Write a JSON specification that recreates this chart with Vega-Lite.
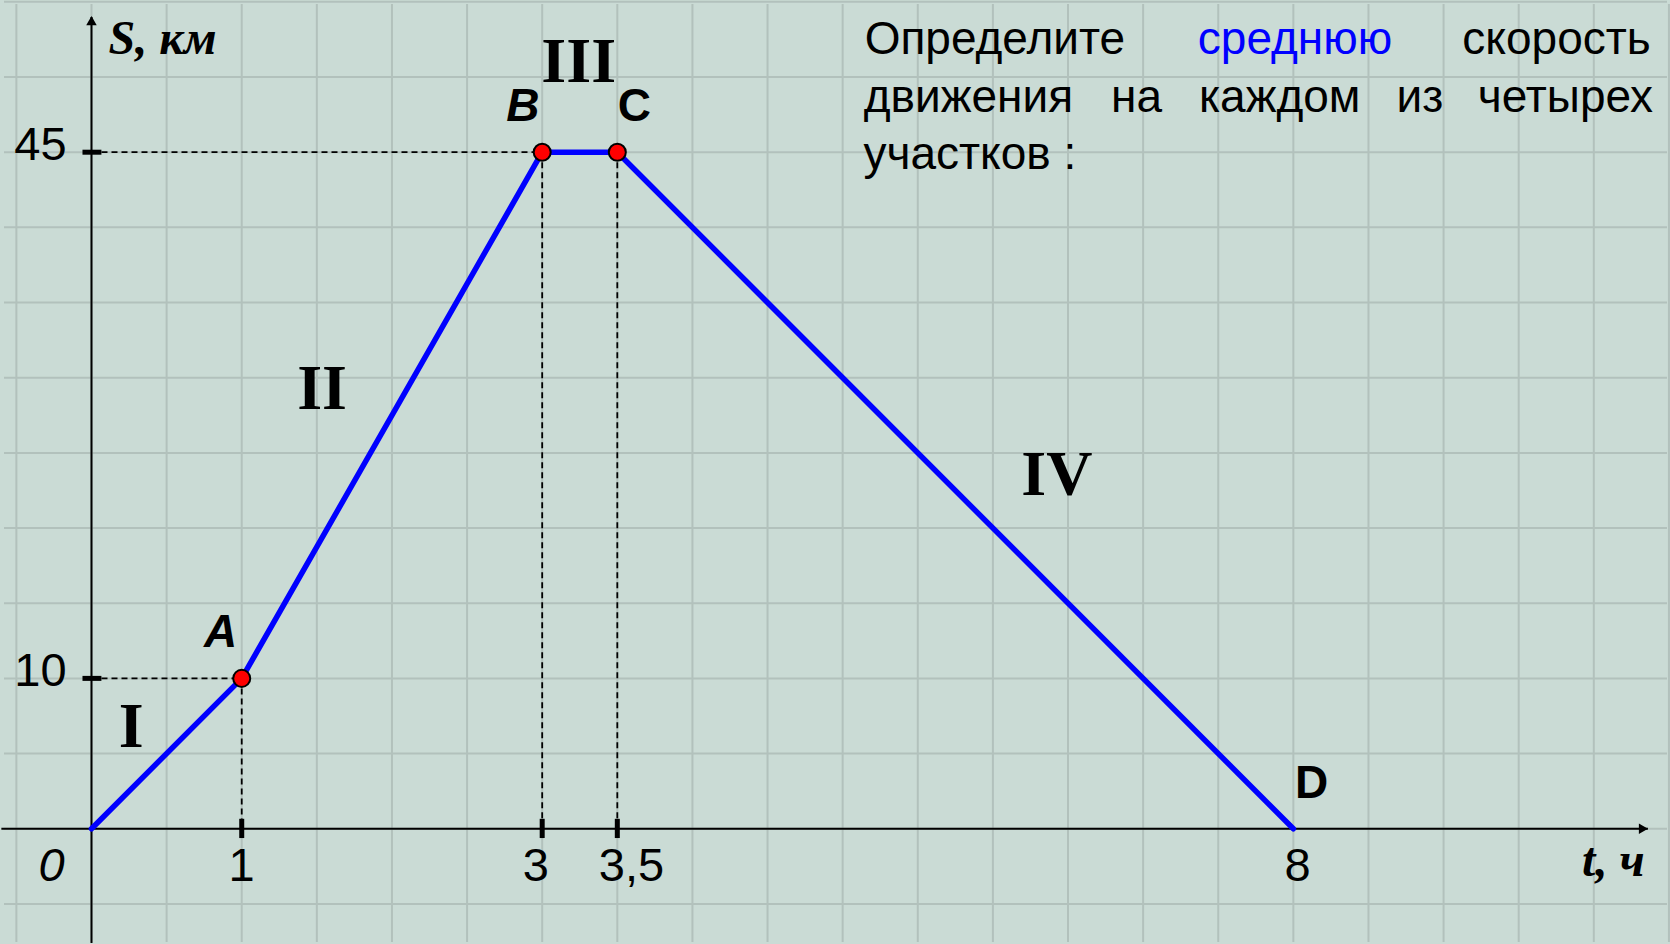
{
  "$schema": "https://vega.github.io/schema/vega-lite/v6.json",
  "width": 1670,
  "height": 944,
  "padding": 0,
  "autosize": {"type": "fit", "contains": "padding"},
  "background": "#CADBD5",
  "config": {"view": {"stroke": null}},
  "datasets": {
    "vgrid": [{"t":-0.5},{"t":0},{"t":0.5},{"t":1},{"t":1.5},{"t":2},{"t":2.5},{"t":3},{"t":3.5},{"t":4},{"t":4.5},{"t":5},{"t":5.5},{"t":6},{"t":6.5},{"t":7},{"t":7.5},{"t":8},{"t":8.5},{"t":9},{"t":9.5},{"t":10},{"t":10.5}],
    "hgrid": [{"s":-5},{"s":0},{"s":5},{"s":10},{"s":15},{"s":20},{"s":25},{"s":30},{"s":35},{"s":40},{"s":45},{"s":50},{"s":55}],
    "dashes": [
      {"t":0,"s":45,"t2":3,"s2":45},
      {"t":3,"s":45,"t2":3,"s2":0},
      {"t":3.5,"s":45,"t2":3.5,"s2":0},
      {"t":0,"s":10,"t2":1,"s2":10},
      {"t":1,"s":10,"t2":1,"s2":0}
    ],
    "axes": [
      {"t":-0.6,"s":0,"t2":10.36,"s2":0},
      {"t":0,"s":-7.6,"t2":0,"s2":54.0}
    ],
    "xticks": [
      {"t":1,"s":0.66,"t2":1,"s2":-0.62},
      {"t":3,"s":0.66,"t2":3,"s2":-0.62},
      {"t":3.5,"s":0.66,"t2":3.5,"s2":-0.62}
    ],
    "yticks": [
      {"t":-0.06,"s":45,"t2":0.066,"s2":45},
      {"t":-0.06,"s":10,"t2":0.066,"s2":10}
    ],
    "arrowUp": [{"t":0,"s":53.75}],
    "arrowRight": [{"t":10.33,"s":0}],
    "path": [
      {"t":0,"s":0,"o":1},
      {"t":1,"s":10,"o":2},
      {"t":3,"s":45,"o":3},
      {"t":3.5,"s":45,"o":4},
      {"t":8,"s":0,"o":5}
    ],
    "points": [
      {"name":"A","t":1,"s":10},
      {"name":"B","t":3,"s":45},
      {"name":"C","t":3.5,"s":45}
    ],
    "tickLabelsRight": [
      {"label":"45","t":-0.1655,"s":44.48},
      {"label":"10","t":-0.1655,"s":9.52}
    ],
    "tickLabelsCenter": [
      {"label":"1","t":0.999,"s":-3.503},
      {"label":"3","t":2.958,"s":-3.503},
      {"label":"3,5","t":3.594,"s":-3.503},
      {"label":"8","t":8.028,"s":-3.503}
    ],
    "originLabel": [{"label":"0","t":-0.265,"s":-3.503}],
    "pointLabelsItalic": [
      {"label":"A","t":0.86,"s":12.1},
      {"label":"B","t":2.872,"s":47.06}
    ],
    "pointLabelsUpright": [
      {"label":"C","t":3.614,"s":47.06},
      {"label":"D","t":8.121,"s":2.05}
    ],
    "roman": [
      {"label":"I","t":0.265,"s":5.42},
      {"label":"II","t":1.535,"s":27.89},
      {"label":"III","t":3.243,"s":49.7},
      {"label":"IV","t":6.426,"s":22.21}
    ],
    "axisTitles": [
      {"label":"S, км","t":0.473,"s":51.5},
      {"label":"t, ч","t":10.13,"s":-3.17}
    ],
    "questionBlack": [
      {"word":"Определите","t":6.013,"s":51.5},
      {"word":"скорость","t":9.752,"s":51.5},
      {"word":"движения","t":5.837,"s":47.7},
      {"word":"на","t":6.956,"s":47.7},
      {"word":"каждом","t":7.909,"s":47.7},
      {"word":"из","t":8.842,"s":47.7},
      {"word":"четырех","t":9.811,"s":47.7},
      {"word":"участков :","t":5.847,"s":43.85}
    ],
    "questionBlue": [
      {"word":"среднюю","t":8.011,"s":51.5}
    ]
  },
  "resolve": {"scale": {"x": "shared", "y": "shared"}},
  "encoding": {
    "x": {"field": "t", "type": "quantitative", "scale": {"domain": [-0.5824, 10.4871], "nice": false, "zero": false}, "axis": null},
    "y": {"field": "s", "type": "quantitative", "scale": {"domain": [-7.535, 54.858], "nice": false, "zero": false}, "axis": null}
  },
  "layer": [
    {
      "data": {"name": "vgrid"},
      "mark": {"type": "rule", "stroke": "#B2C1BC", "strokeWidth": 2},
      "encoding": {"y": null}
    },
    {
      "data": {"name": "hgrid"},
      "mark": {"type": "rule", "stroke": "#B2C1BC", "strokeWidth": 2},
      "encoding": {"x": null}
    },
    {
      "data": {"name": "dashes"},
      "mark": {"type": "rule", "stroke": "#000000", "strokeWidth": 1.8, "strokeDash": [6, 4]},
      "encoding": {"x2": {"field": "t2"}, "y2": {"field": "s2"}}
    },
    {
      "data": {"name": "axes"},
      "mark": {"type": "rule", "stroke": "#000000", "strokeWidth": 2},
      "encoding": {"x2": {"field": "t2"}, "y2": {"field": "s2"}}
    },
    {
      "data": {"name": "xticks"},
      "mark": {"type": "rule", "stroke": "#000000", "strokeWidth": 5},
      "encoding": {"x2": {"field": "t2"}, "y2": {"field": "s2"}}
    },
    {
      "data": {"name": "yticks"},
      "mark": {"type": "rule", "stroke": "#000000", "strokeWidth": 5},
      "encoding": {"x2": {"field": "t2"}, "y2": {"field": "s2"}}
    },
    {
      "data": {"name": "arrowUp"},
      "mark": {"type": "point", "shape": "triangle-up", "filled": true, "fill": "#000000", "stroke": null, "size": 110, "opacity": 1}
    },
    {
      "data": {"name": "arrowRight"},
      "mark": {"type": "point", "shape": "triangle-right", "filled": true, "fill": "#000000", "stroke": null, "size": 110, "opacity": 1}
    },
    {
      "data": {"name": "path"},
      "mark": {"type": "line", "stroke": "#0000FF", "strokeWidth": 5.5, "strokeJoin": "round", "strokeCap": "round"},
      "encoding": {"order": {"field": "o", "type": "quantitative"}}
    },
    {
      "data": {"name": "points"},
      "mark": {"type": "circle", "fill": "#FF0000", "stroke": "#000000", "strokeWidth": 2, "size": 290, "opacity": 1}
    },
    {
      "data": {"name": "tickLabelsRight"},
      "mark": {"type": "text", "font": "Liberation Sans", "fontSize": 47, "align": "right", "baseline": "alphabetic", "color": "#000000"},
      "encoding": {"text": {"field": "label"}}
    },
    {
      "data": {"name": "tickLabelsCenter"},
      "mark": {"type": "text", "font": "Liberation Sans", "fontSize": 47, "align": "center", "baseline": "alphabetic", "color": "#000000"},
      "encoding": {"text": {"field": "label"}}
    },
    {
      "data": {"name": "originLabel"},
      "mark": {"type": "text", "font": "Liberation Sans", "fontSize": 47, "fontStyle": "italic", "align": "center", "baseline": "alphabetic", "color": "#000000"},
      "encoding": {"text": {"field": "label"}}
    },
    {
      "data": {"name": "pointLabelsItalic"},
      "mark": {"type": "text", "font": "Liberation Sans", "fontSize": 46, "fontWeight": "bold", "fontStyle": "italic", "align": "center", "baseline": "alphabetic", "color": "#000000"},
      "encoding": {"text": {"field": "label"}}
    },
    {
      "data": {"name": "pointLabelsUpright"},
      "mark": {"type": "text", "font": "Liberation Sans", "fontSize": 46, "fontWeight": "bold", "align": "center", "baseline": "alphabetic", "color": "#000000"},
      "encoding": {"text": {"field": "label"}}
    },
    {
      "data": {"name": "roman"},
      "mark": {"type": "text", "font": "Liberation Serif", "fontSize": 64, "fontWeight": "bold", "align": "center", "baseline": "alphabetic", "color": "#000000"},
      "encoding": {"text": {"field": "label"}}
    },
    {
      "data": {"name": "axisTitles"},
      "mark": {"type": "text", "font": "Liberation Serif", "fontSize": 48, "fontWeight": "bold", "fontStyle": "italic", "align": "center", "baseline": "alphabetic", "color": "#000000"},
      "encoding": {"text": {"field": "label"}}
    },
    {
      "data": {"name": "questionBlack"},
      "mark": {"type": "text", "font": "Liberation Sans", "fontSize": 46, "align": "center", "baseline": "alphabetic", "color": "#000000"},
      "encoding": {"text": {"field": "word"}}
    },
    {
      "data": {"name": "questionBlue"},
      "mark": {"type": "text", "font": "Liberation Sans", "fontSize": 46, "align": "center", "baseline": "alphabetic", "color": "#0000FF"},
      "encoding": {"text": {"field": "word"}}
    }
  ]
}
